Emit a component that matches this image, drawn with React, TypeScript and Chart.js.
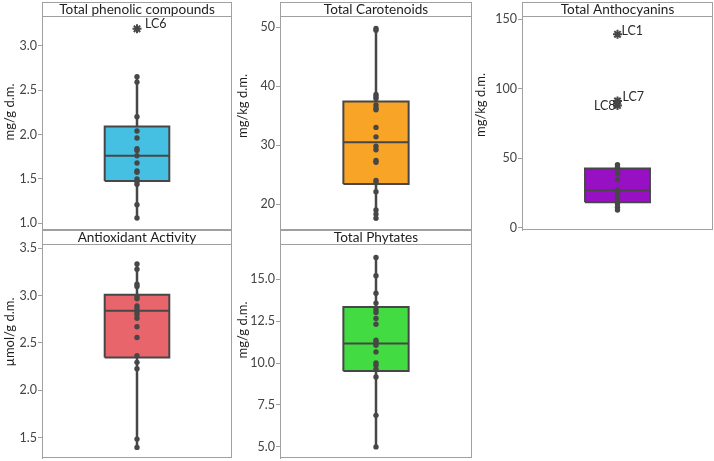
import React, { useEffect, useRef } from "react";
import { Chart, registerables } from "chart.js";

Chart.register(...registerables);

// ---------- DATA ----------
const PHENOLIC_VALUES = [2.65, 2.59, 2.2, 2.04, 1.96, 1.84, 1.82, 1.76, 1.68, 1.59, 1.575, 1.5, 1.47, 1.44, 1.21, 1.06];
const PHENOLIC_BOX = [1.476, 1.76, 2.09]; // q1, median, q3
const PHENOLIC_OUTLIERS = [3.19];
const PHENOLIC_OUTLIER_LABELS = ["LC6"];
const PHENOLIC_TICKS = [1.0, 1.5, 2.0, 2.5, 3.0];

const CAROTENOID_VALUES = [49.8, 49.5, 38.6, 38.2, 37.9, 36.8, 36.3, 36.0, 33.0, 31.4, 29.8, 29.2, 27.4, 27.1, 24.0, 23.6, 22.1, 19.0, 18.3, 17.6];
const CAROTENOID_BOX = [23.4, 30.5, 37.4];
const CAROTENOID_OUTLIERS: number[] = [];
const CAROTENOID_OUTLIER_LABELS: string[] = [];
const CAROTENOID_TICKS = [20, 30, 40, 50];

const ANTHOCYANIN_VALUES = [45.4, 43.5, 40.6, 38.7, 34.4, 27.2, 25.5, 23.6, 21.9, 19.5, 17.1, 14.6, 12.7];
const ANTHOCYANIN_BOX = [18.2, 26.9, 42.6];
const ANTHOCYANIN_OUTLIERS = [139.2, 91.2, 88.0];
const ANTHOCYANIN_OUTLIER_LABELS = ["LC1", "LC7", "LC8"];
const ANTHOCYANIN_TICKS = [0, 50, 100, 150];

const ANTIOXIDANT_VALUES = [3.334, 3.278, 3.12, 3.095, 2.99, 2.965, 2.89, 2.86, 2.825, 2.8, 2.76, 2.67, 2.557, 2.364, 2.294, 2.227, 1.483, 1.395];
const ANTIOXIDANT_BOX = [2.345, 2.84, 3.008];
const ANTIOXIDANT_OUTLIERS: number[] = [];
const ANTIOXIDANT_OUTLIER_LABELS: string[] = [];
const ANTIOXIDANT_TICKS = [1.5, 2.0, 2.5, 3.0, 3.5];

const PHYTATE_VALUES = [16.29, 15.2, 14.16, 13.57, 13.19, 13.01, 12.65, 12.31, 11.36, 11.22, 11.06, 10.66, 10.0, 9.87, 9.63, 9.17, 6.88, 5.0];
const PHYTATE_BOX = [9.53, 11.16, 13.33];
const PHYTATE_OUTLIERS: number[] = [];
const PHYTATE_OUTLIER_LABELS: string[] = [];
const PHYTATE_TICKS = [5.0, 7.5, 10.0, 12.5, 15.0];

// ---------- STYLE / LAYOUT ----------
const FONT = "Lato, 'Open Sans', sans-serif";
const FRAME = "#a0a0a0";
const DARK = "#474747";
const BOX_HALF = 0.34;
const STRIP_H = 14;

type Panel = {
  title: string;
  yTitle: string;
  values: number[];
  box: number[];
  outliers: number[];
  outlierLabels: string[];
  labelDx: number[];
  labelDy: number[];
  ticks: number[];
  decimals: number;
  yMin: number;
  yMax: number;
  color: string;
  left: number;
  top: number;
  width: number;
  height: number;
  axisWidth: number;
  padTop: number;
  padBottom: number;
  padRight: number;
  yTitleX: number;
  yTitleShift: number;
};

const PANELS: Panel[] = [
  {
    title: "Total phenolic compounds", yTitle: "mg/g d.m.",
    values: PHENOLIC_VALUES, box: PHENOLIC_BOX, outliers: PHENOLIC_OUTLIERS,
    outlierLabels: PHENOLIC_OUTLIER_LABELS, labelDx: [8], labelDy: [-5],
    ticks: PHENOLIC_TICKS, decimals: 1, yMin: 0.925, yMax: 3.334, color: "#45c0e2",
    left: 0, top: 0, width: 234, height: 232, axisWidth: 42, padTop: 16, padBottom: 2, padRight: 2,
    yTitleX: 10, yTitleShift: -11,
  },
  {
    title: "Total Carotenoids", yTitle: "mg/kg d.m.",
    values: CAROTENOID_VALUES, box: CAROTENOID_BOX, outliers: CAROTENOID_OUTLIERS,
    outlierLabels: CAROTENOID_OUTLIER_LABELS, labelDx: [], labelDy: [],
    ticks: CAROTENOID_TICKS, decimals: 0, yMin: 15.6, yMax: 51.9, color: "#f8a427",
    left: 234, top: 0, width: 240, height: 232, axisWidth: 46, padTop: 16, padBottom: 2, padRight: 2,
    yTitleX: 9, yTitleShift: -17,
  },
  {
    title: "Total Anthocyanins", yTitle: "mg/kg d.m.",
    values: ANTHOCYANIN_VALUES, box: ANTHOCYANIN_BOX, outliers: ANTHOCYANIN_OUTLIERS,
    outlierLabels: ANTHOCYANIN_OUTLIER_LABELS, labelDx: [4, 5, -2], labelDy: [-3, -4, 1],
    ticks: ANTHOCYANIN_TICKS, decimals: 0, yMin: -1.7, yMax: 152.4, color: "#9810c4",
    left: 474, top: 0, width: 240, height: 232, axisWidth: 48, padTop: 16, padBottom: 2, padRight: 1,
    yTitleX: 7, yTitleShift: -18,
  },
  {
    title: "Antioxidant Activity", yTitle: "\u00b5mol/g d.m.",
    values: ANTIOXIDANT_VALUES, box: ANTIOXIDANT_BOX, outliers: ANTIOXIDANT_OUTLIERS,
    outlierLabels: ANTIOXIDANT_OUTLIER_LABELS, labelDx: [], labelDy: [],
    ticks: ANTIOXIDANT_TICKS, decimals: 1, yMin: 1.283, yMax: 3.545, color: "#e8666b",
    left: 0, top: 230, width: 234, height: 231, axisWidth: 42, padTop: 14, padBottom: 3, padRight: 2,
    yTitleX: 10, yTitleShift: -19,
  },
  {
    title: "Total Phytates", yTitle: "mg/g d.m.",
    values: PHYTATE_VALUES, box: PHYTATE_BOX, outliers: PHYTATE_OUTLIERS,
    outlierLabels: PHYTATE_OUTLIER_LABELS, labelDx: [], labelDy: [],
    ticks: PHYTATE_TICKS, decimals: 1, yMin: 4.34, yMax: 17.09, color: "#42dc42",
    left: 234, top: 230, width: 240, height: 231, axisWidth: 46, padTop: 14, padBottom: 3, padRight: 2,
    yTitleX: 9, yTitleShift: -21,
  },
];

const decorPlugin = {
  id: "panelDecor",
  afterDraw(chart: any, _args: any, opts: any) {
    const { ctx, chartArea: a } = chart;
    ctx.save();
    // frame
    ctx.strokeStyle = FRAME;
    ctx.lineWidth = 1;
    ctx.strokeRect(a.left + 0.5, a.top + 0.5, a.right - a.left - 1, a.bottom - a.top - 1);
    // title strip
    const sTop = Math.round(a.top - STRIP_H);
    ctx.fillStyle = "#ffffff";
    ctx.fillRect(a.left, sTop, a.right - a.left, STRIP_H);
    ctx.strokeRect(a.left + 0.5, sTop + 0.5, a.right - a.left - 1, STRIP_H);
    ctx.fillStyle = "#1e1e1e";
    ctx.font = `13.6px ${FONT}`;
    ctx.textAlign = "center";
    ctx.textBaseline = "middle";
    ctx.fillText(opts.title, (a.left + a.right) / 2, sTop + STRIP_H / 2 + 0.5);
    // y title
    ctx.save();
    ctx.translate(opts.yTitleX, (a.top + a.bottom) / 2 + opts.yTitleShift);
    ctx.rotate(-Math.PI / 2);
    ctx.font = `13px ${FONT}`;
    ctx.fillStyle = "#1e1e1e";
    ctx.textAlign = "center";
    ctx.textBaseline = "middle";
    ctx.fillText(opts.yTitle, 0, 0);
    ctx.restore();
    // outlier labels
    const meta = chart.getDatasetMeta(opts.outlierIndex);
    ctx.font = `12.5px ${FONT}`;
    ctx.fillStyle = "#2a2a2a";
    ctx.textBaseline = "middle";
    meta.data.forEach((el: any, i: number) => {
      const dx = opts.labelDx[i] ?? 5;
      const dy = opts.labelDy[i] ?? -4;
      ctx.textAlign = dx < 0 ? "right" : "left";
      ctx.fillText(opts.outlierLabels[i], el.x + dx, el.y + dy);
    });
    ctx.restore();
  },
};

function BoxPanel({ p }: { p: Panel }) {
  const ref = useRef<HTMLCanvasElement>(null);
  useEffect(() => {
    const [q1, med, q3] = p.box;
    const lo = Math.min(...p.values);
    const hi = Math.max(...p.values);
    const chart = new Chart(ref.current as HTMLCanvasElement, {
      type: "scatter",
      data: {
        datasets: [
          {
            label: "points",
            data: p.values.map((y) => ({ x: 0, y })),
            pointRadius: 2.7,
            pointBackgroundColor: DARK,
            pointBorderWidth: 0,
            showLine: false,
            order: 1,
          },
          {
            label: "outliers",
            data: p.outliers.map((y) => ({ x: 0, y })),
            pointStyle: "star",
            pointRadius: 4.5,
            pointBorderColor: DARK,
            pointBorderWidth: 2,
            showLine: false,
            order: 0,
          },
          {
            label: "median",
            data: [{ x: -BOX_HALF, y: med }, { x: BOX_HALF, y: med }],
            showLine: true,
            borderColor: DARK,
            borderWidth: 2,
            pointRadius: 0,
            order: 2,
          },
          {
            label: "box",
            data: [
              { x: -BOX_HALF, y: q1 },
              { x: BOX_HALF, y: q1 },
              { x: BOX_HALF, y: q3 },
              { x: -BOX_HALF, y: q3 },
              { x: -BOX_HALF, y: q1 },
            ],
            showLine: true,
            fill: "shape",
            backgroundColor: p.color,
            borderColor: DARK,
            borderWidth: 2,
            borderJoinStyle: "miter",
            pointRadius: 0,
            order: 3,
          },
          {
            label: "whisker",
            data: [{ x: 0, y: lo }, { x: 0, y: hi }],
            showLine: true,
            borderColor: DARK,
            borderWidth: 2.5,
            pointRadius: 0,
            order: 4,
          },
        ],
      },
      options: {
        animation: false,
        responsive: false,
        events: [],
        layout: { autoPadding: false, padding: { top: p.padTop, bottom: p.padBottom, right: p.padRight, left: 0 } },
        plugins: {
          legend: { display: false },
          tooltip: { enabled: false },
          panelDecor: {
            title: p.title,
            yTitle: p.yTitle,
            yTitleX: p.yTitleX,
            yTitleShift: p.yTitleShift,
            outlierIndex: 1,
            outlierLabels: p.outlierLabels,
            labelDx: p.labelDx,
            labelDy: p.labelDy,
          },
        } as any,
        scales: {
          x: { type: "linear", min: -1, max: 1, display: false },
          y: {
            type: "linear",
            min: p.yMin,
            max: p.yMax,
            afterFit: (s: any) => {
              s.width = p.axisWidth;
              s.paddingTop = 0;
              s.paddingBottom = 0;
            },
            afterBuildTicks: (s: any) => {
              s.ticks = p.ticks.map((v) => ({ value: v }));
            },
            ticks: {
              callback: (v: any) => Number(v).toFixed(p.decimals),
              color: "#444444",
              font: { family: FONT, size: 12.5 },
              padding: 1,
            },
            grid: { drawOnChartArea: false, drawTicks: true, tickLength: 4, color: FRAME },
            border: { display: true, color: FRAME },
          },
        },
      },
      plugins: [decorPlugin],
    } as any);
    return () => chart.destroy();
  }, [p]);
  return (
    <canvas
      ref={ref}
      width={p.width}
      height={p.height}
      style={{ position: "absolute", left: p.left, top: p.top, width: p.width, height: p.height }}
    />
  );
}

export default function App() {
  return (
    <div style={{ position: "absolute", left: 0, top: 0, width: 714, height: 461, background: "#ffffff" }}>
      {PANELS.map((p, i) => (
        <BoxPanel key={i} p={p} />
      ))}
    </div>
  );
}
